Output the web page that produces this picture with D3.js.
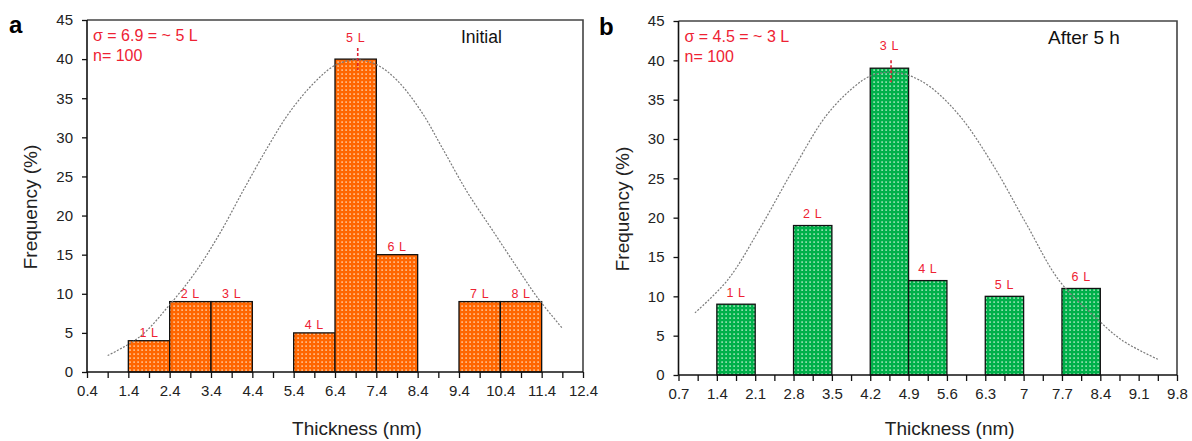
<!DOCTYPE html>
<html>
<head>
<meta charset="utf-8">
<script src="https://cdn.jsdelivr.net/npm/d3@7"></script>
<style>
  html, body { margin: 0; padding: 0; background: #fff; }
  svg { display: block; font-family: "Liberation Sans", Arial, sans-serif; }
</style>
</head>
<body>
<svg id="chart" width="1192" height="441"></svg>
<script>
// ---- Panel a: initial thickness distribution ----
const binStartA = [1.4, 2.4, 3.4, 5.4, 6.4, 7.4, 9.4, 10.4];
const binEndA   = [2.4, 3.4, 4.4, 6.4, 7.4, 8.4, 10.4, 11.4];
const freqA     = [4, 9, 9, 5, 40, 15, 9, 9];
const layersA   = ["1 L", "2 L", "3 L", "4 L", "5 L", "6 L", "7 L", "8 L"];
const xTicksA   = [0.4, 1.4, 2.4, 3.4, 4.4, 5.4, 6.4, 7.4, 8.4, 9.4, 10.4, 11.4, 12.4];
const xTickLabelsA = ["0.4", "1.4", "2.4", "3.4", "4.4", "5.4", "6.4", "7.4", "8.4", "9.4", "10.4", "11.4", "12.4"];
// fitted normal curve (thickness, frequency)
const fitXA = [0.9, 1.7, 2.4, 3.0, 3.6, 4.2, 4.8, 5.3, 5.9, 6.4, 6.9, 7.4, 7.9, 8.5, 9.0, 9.6, 10.2, 10.8, 11.3, 11.9];
const fitYA = [2.1, 4.6, 8.6, 12.6, 17.6, 23.4, 29.0, 33.2, 37.0, 39.2, 39.9, 39.3, 37.3, 33.2, 28.6, 23.0, 18.2, 13.4, 9.5, 5.6];
const peakMarkA = 6.95;
const statsA = ["σ = 6.9 = ~ 5 L", "n= 100"];

// ---- Panel b: after 5 h ----
const binStartB = [1.4, 2.8, 4.2, 4.9, 6.3, 7.7];
const binEndB   = [2.1, 3.5, 4.9, 5.6, 7.0, 8.4];
const freqB     = [9, 19, 39, 12, 10, 11];
const layersB   = ["1 L", "2 L", "3 L", "4 L", "5 L", "6 L"];
const xTicksB   = [0.7, 1.4, 2.1, 2.8, 3.5, 4.2, 4.9, 5.6, 6.3, 7.0, 7.7, 8.4, 9.1, 9.8];
const xTickLabelsB = ["0.7", "1.4", "2.1", "2.8", "3.5", "4.2", "4.9", "5.6", "6.3", "7", "7.7", "8.4", "9.1", "9.8"];
const fitXB = [1.0, 1.6, 2.2, 2.8, 3.4, 3.9, 4.2, 4.55, 4.9, 5.3, 5.85, 6.45, 7.05, 7.65, 8.3, 8.8, 9.45];
const fitYB = [7.9, 12.1, 18.8, 26.2, 33.0, 36.6, 38.0, 38.5, 38.1, 36.6, 32.8, 26.6, 19.2, 12.0, 7.4, 4.4, 2.0];
const peakMarkB = 4.58;
const statsB = ["σ = 4.5 = ~ 3 L", "n= 100"];

const yTicks = [0, 5, 10, 15, 20, 25, 30, 35, 40, 45];

const svg = d3.select("#chart");
const RED = "#ee2233";

// dotted fills for the bars
const defs = svg.append("defs");
function dotPattern(id, bg, dot) {
  const p = defs.append("pattern")
    .attr("id", id).attr("patternUnits", "userSpaceOnUse")
    .attr("width", 4).attr("height", 4);
  p.append("rect").attr("width", 4).attr("height", 4).attr("fill", bg);
  p.append("rect").attr("x", 1.4).attr("y", 1.4).attr("width", 1.4).attr("height", 1.4)
    .attr("fill", dot);
}
dotPattern("dotsOrange", "#ff6600", "#ffe2c4");
dotPattern("dotsGreen", "#00b04a", "#d4f5de");

function drawPanel(cfg) {
  const g = svg.append("g");
  const x = d3.scaleLinear().domain([cfg.ticks[0], cfg.ticks[cfg.ticks.length - 1]])
    .range([cfg.left, cfg.right]);
  const y = d3.scaleLinear().domain([0, 45]).range([cfg.bottom, cfg.top]);

  // minor ticks half way between labelled ticks
  const minor = cfg.ticks.slice(0, -1).map((t, i) => (t + cfg.ticks[i + 1]) / 2);

  // bars
  g.selectAll("rect.bar").data(cfg.freq).join("rect")
    .attr("class", "bar")
    .attr("x", (d, i) => x(cfg.start[i]))
    .attr("width", (d, i) => x(cfg.end[i]) - x(cfg.start[i]))
    .attr("y", d => y(d))
    .attr("height", d => y(0) - y(d))
    .attr("fill", `url(#${cfg.pattern})`)
    .attr("stroke", "#111").attr("stroke-width", 1.3);

  // fitted curve
  const pts = cfg.fitX.map((v, i) => [v, cfg.fitY[i]]);
  g.append("path")
    .attr("d", d3.line().x(d => x(d[0])).y(d => y(d[1])).curve(d3.curveCatmullRom)(pts))
    .attr("fill", "none").attr("stroke", "#7a7a7a").attr("stroke-width", 1.2)
    .attr("stroke-dasharray", "2,1.5");

  // peak marker
  const peakIdx = cfg.freq.indexOf(d3.max(cfg.freq));
  g.append("line")
    .attr("x1", x(cfg.peak)).attr("x2", x(cfg.peak))
    .attr("y1", y(cfg.freq[peakIdx]) - cfg.markUp).attr("y2", y(cfg.freq[peakIdx]) + cfg.markDown)
    .attr("stroke", "#dd2233").attr("stroke-width", 1.6).attr("stroke-dasharray", "3,2");

  // layer labels
  g.selectAll("text.layer").data(cfg.layers).join("text")
    .attr("class", "layer")
    .attr("x", (d, i) => x((cfg.start[i] + cfg.end[i]) / 2))
    .attr("y", (d, i) => y(cfg.freq[i]) - (i === peakIdx ? cfg.peakLabelGap : cfg.labelGap))
    .attr("text-anchor", "middle")
    .attr("font-size", 12.5).attr("letter-spacing", 0.6).attr("fill", RED)
    .text(d => d);

  // frame (top and right)
  g.append("path")
    .attr("d", `M${cfg.left},${cfg.top}H${cfg.right}V${cfg.bottom}`)
    .attr("fill", "none").attr("stroke", "#444").attr("stroke-width", 1.6);

  // axes
  const xAxis = d3.axisBottom(x).tickValues(cfg.ticks).tickSize(6).tickPadding(7)
    .tickFormat((d, i) => cfg.tickLabels[i]);
  const xa = g.append("g").attr("transform", `translate(0,${cfg.bottom})`).call(xAxis);
  const xm = g.append("g").attr("transform", `translate(0,${cfg.bottom})`)
    .call(d3.axisBottom(x).tickValues(minor).tickSize(6).tickFormat(""));
  xm.select(".domain").remove();
  const ya = g.append("g").attr("transform", `translate(${cfg.left},0)`)
    .call(d3.axisLeft(y).tickValues(yTicks).tickSize(5).tickPadding(9));
  [xa, xm, ya].forEach(a => {
    a.selectAll("path.domain").attr("stroke", "#111").attr("stroke-width", 1.6);
    a.selectAll(".tick line").attr("stroke", "#111").attr("stroke-width", 1.3);
    a.selectAll(".tick text").attr("font-size", 15).attr("fill", "#222")
      .attr("font-family", "'Liberation Sans', Arial, sans-serif");
  });
  xa.select("path.domain").attr("d", `M${cfg.left},0H${cfg.right}`);
  ya.select("path.domain").attr("d", `M0,${cfg.bottom}V${cfg.top}`);

  // axis titles
  g.append("text")
    .attr("x", (cfg.left + cfg.right) / 2 + 22).attr("y", 435)
    .attr("text-anchor", "middle").attr("font-size", 19).attr("fill", "#222")
    .text("Thickness (nm)");
  g.append("text")
    .attr("transform", `translate(${cfg.left - 50},${(cfg.top + cfg.bottom) / 2 + 11}) rotate(-90)`)
    .attr("text-anchor", "middle").attr("font-size", 19).attr("fill", "#222")
    .text("Frequency (%)");

  // annotations
  g.append("text").attr("x", cfg.left + 6).attr("y", cfg.top + 21)
    .attr("font-size", 16).attr("fill", RED).text(cfg.stats[0]);
  g.append("text").attr("x", cfg.left + 6).attr("y", cfg.top + 41)
    .attr("font-size", 16).attr("fill", RED).text(cfg.stats[1]);
  g.append("text").attr("x", cfg.titleX).attr("y", cfg.top + 23)
    .attr("font-size", cfg.titleSize).attr("fill", "#111").text(cfg.title);
  g.append("text").attr("x", cfg.letterX).attr("y", cfg.letterY)
    .attr("font-size", 24).attr("font-weight", "bold").attr("fill", "#000").text(cfg.letter);
}

drawPanel({
  left: 87, right: 583, top: 20, bottom: 372,
  start: binStartA, end: binEndA, freq: freqA, layers: layersA,
  ticks: xTicksA, tickLabels: xTickLabelsA,
  fitX: fitXA, fitY: fitYA, peak: peakMarkA, markUp: 11, markDown: 11,
  labelGap: 4, peakLabelGap: 17,
  pattern: "dotsOrange", stats: statsA,
  title: "Initial", titleX: 461, titleSize: 17.5,
  letter: "a", letterX: 9, letterY: 33
});

drawPanel({
  left: 678.5, right: 1177, top: 21, bottom: 375,
  start: binStartB, end: binEndB, freq: freqB, layers: layersB,
  ticks: xTicksB, tickLabels: xTickLabelsB,
  fitX: fitXB, fitY: fitYB, peak: peakMarkB, markUp: 8, markDown: 14,
  labelGap: 7.5, peakLabelGap: 18,
  pattern: "dotsGreen", stats: statsB,
  title: "After 5 h", titleX: 1048, titleSize: 19,
  letter: "b", letterX: 599, letterY: 35
});
</script>
</body>
</html>
